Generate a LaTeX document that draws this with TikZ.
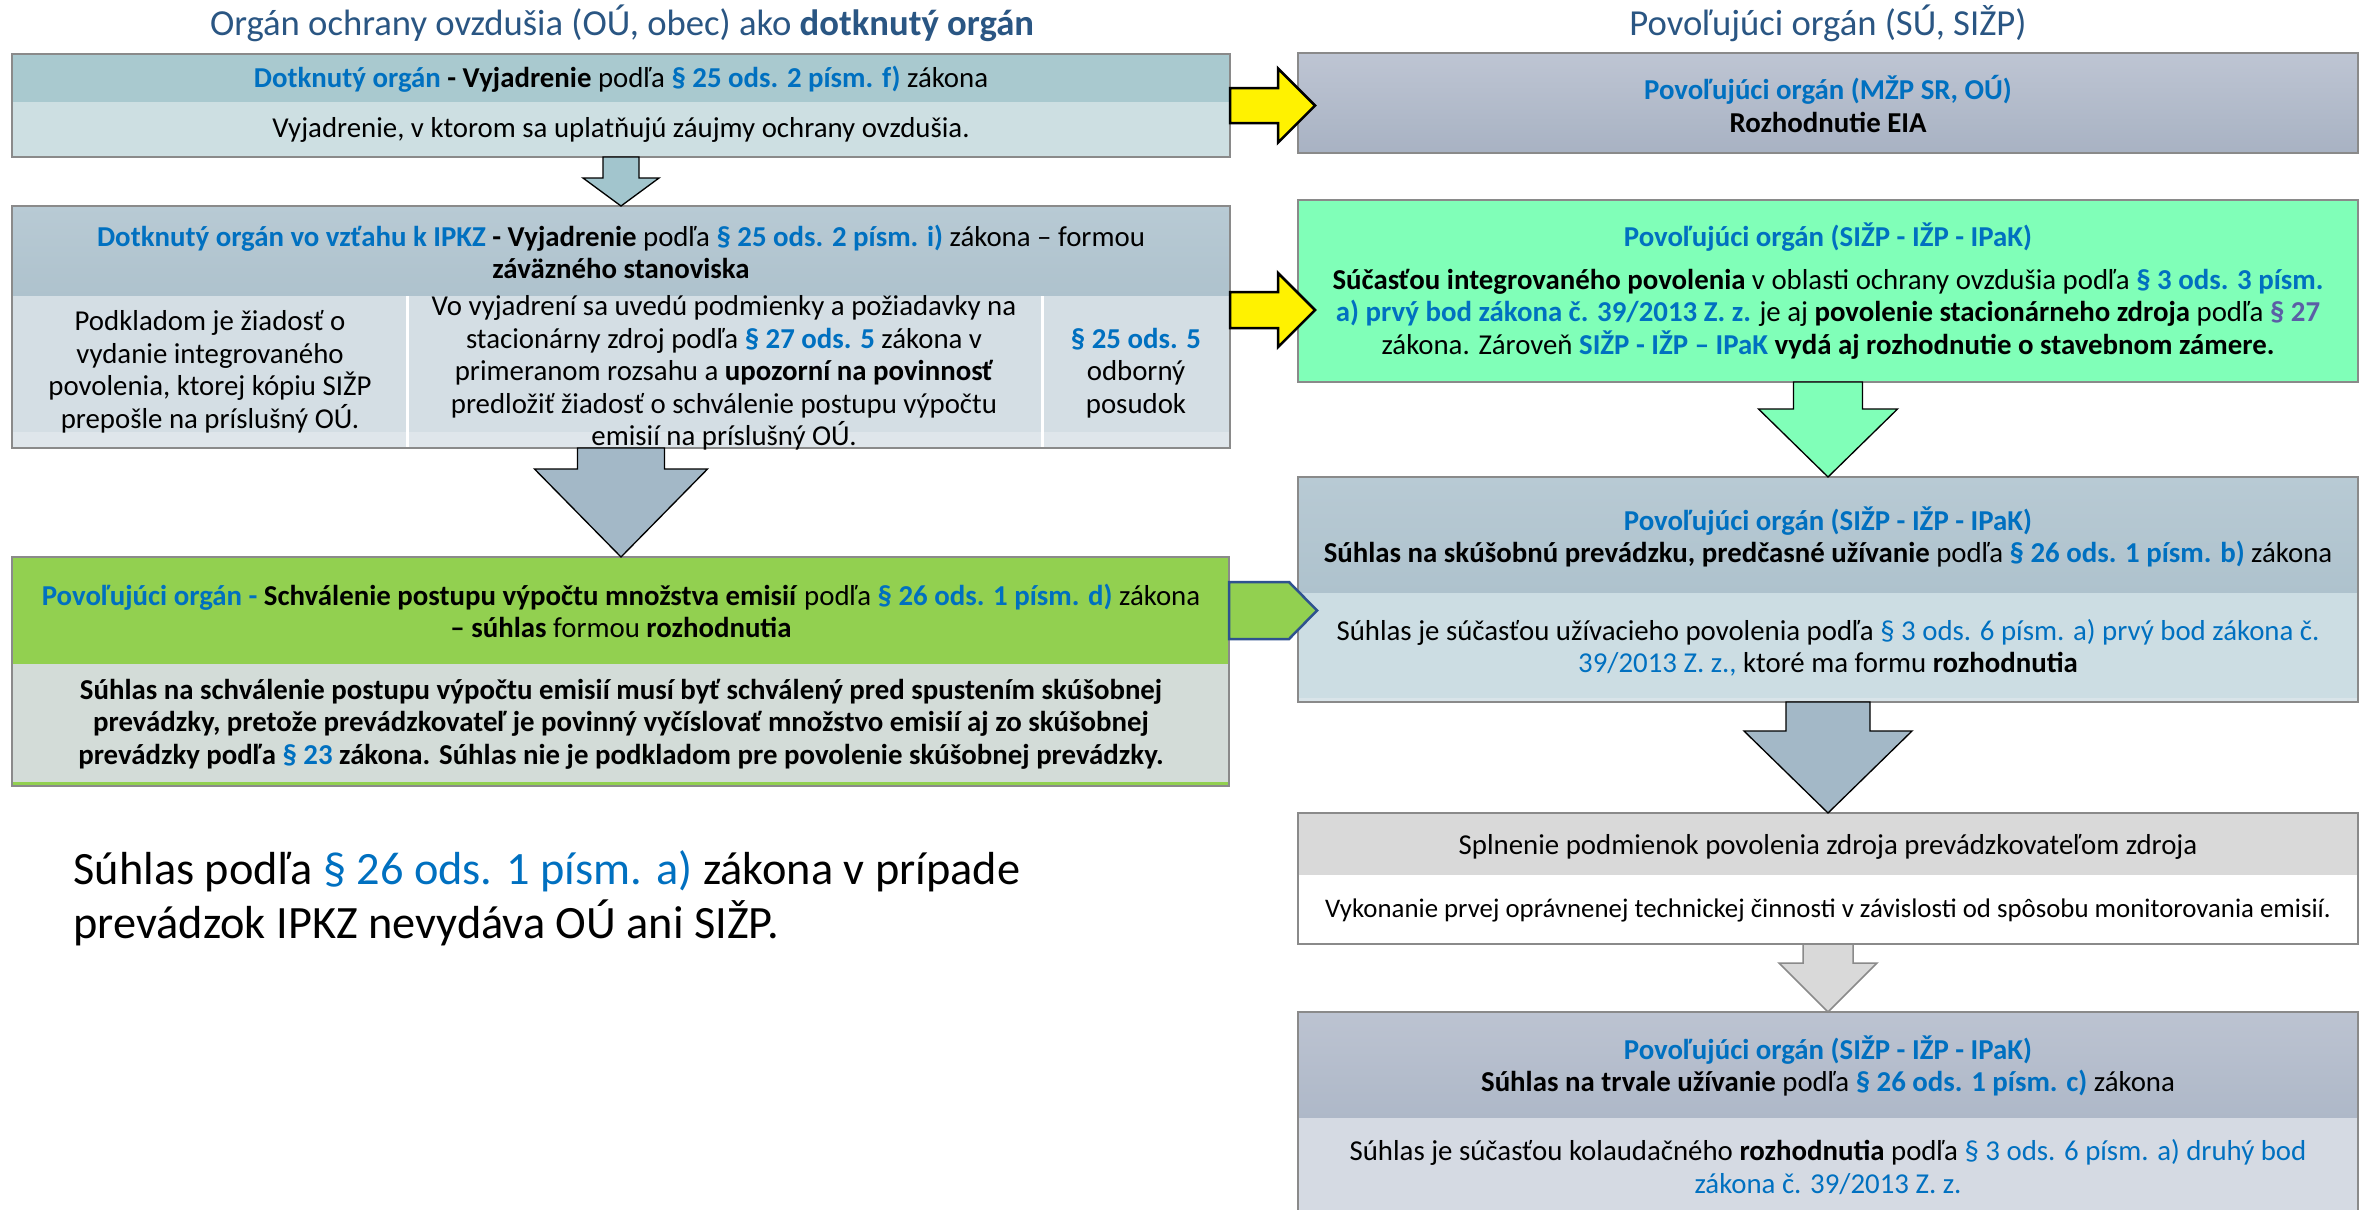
\documentclass[tikz,border=0pt]{standalone}
\usepackage{fontspec}
\setmainfont{Carlito}
\usetikzlibrary{calc,fit}
\definecolor{linkblue}{HTML}{0070C0}
\definecolor{purp}{HTML}{5B5EA6}
\definecolor{titleblue}{HTML}{2A5683}
\definecolor{ahead}{HTML}{A9C9CF}
\definecolor{abody}{HTML}{CDDFE2}
\definecolor{bheadt}{HTML}{B8CAD4}
\definecolor{bheadb}{HTML}{AEC2CD}
\definecolor{bcol}{HTML}{D4DEE4}
\definecolor{bstrip}{HTML}{DFE6EB}
\definecolor{hgreen}{HTML}{92D050}
\definecolor{hbody}{HTML}{D3DCD8}
\definecolor{cheadt}{HTML}{BEC5D3}
\definecolor{cheadb}{HTML}{A8B2C3}
\definecolor{mint}{HTML}{80FFB8}
\definecolor{ebody}{HTML}{CCDDE3}
\definecolor{estrip}{HTML}{D9E4E9}
\definecolor{fhead}{HTML}{D9D9D9}
\definecolor{gheadt}{HTML}{BCC3D1}
\definecolor{gheadb}{HTML}{AEB8C8}
\definecolor{gbody}{HTML}{D5DAE3}
\definecolor{arrteal}{HTML}{A2C5CD}
\definecolor{arrslate}{HTML}{A3B8C7}
\definecolor{boxborder}{HTML}{8A8A8A}
\definecolor{pentborder}{HTML}{2F528F}
\newcommand{\blu}[1]{\textcolor{linkblue}{#1}}
\newcommand{\bblu}[1]{\textbf{\textcolor{linkblue}{#1}}}
\newcommand{\fb}{\fontsize{8.65pt}{9.75pt}\selectfont}
\newcommand{\fsm}{\fontsize{8.05pt}{9.5pt}\selectfont}
\newcommand{\ftitle}{\fontsize{11pt}{13pt}\selectfont}
\newcommand{\fbig}{\fontsize{13.9pt}{16.2pt}\selectfont}
% block arrow pointing down: style, top anchor, tip anchor, half shaft, half head, head length
\newcommand{\arrdown}[6]{%
  \draw[#1] ($(#2)+(-#4,0)$) -- ($(#2)+(#4,0)$) -- ($(#2|-#3)+(#4,-#6)$)
    -- ($(#2|-#3)+(#5,-#6)$) -- (#2|-#3) -- ($(#2|-#3)+(-#5,-#6)$)
    -- ($(#2|-#3)+(-#4,-#6)$) -- cycle;}
% block arrow pointing right: style, start anchor, tip x anchor, half shaft, half head, head length
\newcommand{\arrright}[6]{%
  \draw[#1] ($(#2)+(0,-#4)$) -- ($(#3|-#2)+(-#6,-#4)$) -- ($(#3|-#2)+(-#6,-#5)$)
    -- (#3|-#2) -- ($(#3|-#2)+(-#6,#5)$) -- ($(#3|-#2)+(-#6,#4)$)
    -- ($(#2)+(0,#4)$) -- cycle;}
\begin{document}
\begin{tikzpicture}[x=0.3pt,y=-0.3pt,
  area/.style={inner sep=0pt, outer sep=0pt, draw=none},
  frame/.style={inner sep=0pt, outer sep=0pt, draw=boxborder, line width=0.45pt},
  txt/.style={align=center, inner sep=0pt, font=\fb},
  ttl/.style={anchor=base, inner sep=0pt, font=\ftitle, text=titleblue},
  yarrow/.style={fill=yellow, draw=black, line width=0.75pt, line join=miter},
]
\path[use as bounding box, clip] (0,0) rectangle (2369,1209);
\fill[white] (0,0) rectangle (2369,1209);

% titles
\node[ttl] (tl) at (622,35) {Orgán ochrany ovzdušia (OÚ, obec) ako \textbf{dotknutý orgán}};
\node[ttl] (tr) at (1828,35) {Povoľujúci orgán (SÚ, SIŽP)};

% ---------- box A ----------
\node[area, fill=ahead, fit={(12,54) (1230,102)}] (AH) {};
\node[area, fill=abody, fit={(12,102) (1230,157)}] (AB) {};
\node[frame, fit={(12,54) (1230,157)}] (A) {};
\node[txt] (tA1) at (621,79) {\bblu{Dotknutý orgán} \textbf{- Vyjadrenie} podľa \bblu{§ 25 ods. 2 písm. f)} zákona};
\node[txt] (tA2) at (621,130) {Vyjadrenie, v ktorom sa uplatňujú záujmy ochrany ovzdušia.};

% ---------- box B ----------
\node[area, top color=bheadt, bottom color=bheadb, fit={(12,206) (1230,296)}] (BH) {};
\node[area, fill=bstrip, fit={(12,296) (1230,448)}] (BS) {};
\node[area, fill=bcol, fit={(12,296) (407,432)}] (B1) {};
\node[area, fill=bcol, fit={(407,296) (1042,432)}] (B2) {};
\node[area, fill=bcol, fit={(1042,296) (1230,432)}] (B3) {};
\draw[white, line width=0.9pt] (B1.north east) -- (B1.north east |- BS.south);
\draw[white, line width=0.9pt] (B3.north west) -- (B3.north west |- BS.south);
\node[frame, fit={(12,206) (1230,448)}] (B) {};
\node[txt] (tB0) at (621,252) {\bblu{Dotknutý orgán vo vzťahu k IPKZ} \textbf{- Vyjadrenie} podľa \bblu{§ 25 ods. 2 písm. i)} zákona – formou\\ \textbf{záväzného stanoviska}};
\node[txt] (tB1) at (210,372) {Podkladom je žiadosť o\\ vydanie integrovaného\\ povolenia, ktorej kópiu SIŽP\\ prepošle na príslušný OÚ.};
\node[txt] (tB2) at (724,373) {Vo vyjadrení sa uvedú podmienky a požiadavky na\\ stacionárny zdroj podľa \bblu{§ 27 ods. 5} zákona v\\ primeranom rozsahu a \textbf{upozorní na povinnosť}\\ predložiť žiadosť o schválenie postupu výpočtu\\ emisií na príslušný OÚ.};
\node[txt] (tB3) at (1136,373) {\bblu{§ 25 ods. 5}\\ odborný\\ posudok};

% ---------- box H ----------
\node[area, fill=hgreen, fit={(12,557) (1229,664)}] (HH) {};
\node[area, fill=hgreen, fit={(12,664) (1229,786)}] (HS) {};
\node[area, fill=hbody, fit={(12,664) (1229,782)}] (HB) {};
\node[frame, fit={(12,557) (1229,786)}] (H) {};
\node[txt] (tH1) at (621,611) {\bblu{Povoľujúci orgán -} \textbf{Schválenie postupu výpočtu množstva emisií} podľa \bblu{§ 26 ods. 1 písm. d)} zákona\\ \textbf{– súhlas} formou \textbf{rozhodnutia}};
\node[txt] (tH2) at (621,724) {\textbf{Súhlas na schválenie postupu výpočtu emisií musí byť schválený pred spustením skúšobnej}\\ \textbf{prevádzky, pretože prevádzkovateľ je povinný vyčíslovať množstvo emisií aj zo skúšobnej}\\ \textbf{prevádzky podľa \blu{§ 23} zákona. Súhlas nie je podkladom pre povolenie skúšobnej prevádzky.}};

% ---------- box C ----------
\node[frame, top color=cheadt, bottom color=cheadb, fit={(1298,53) (2358,153)}] (C) {};
\node[txt] (tC) at (1828,104) {\bblu{Povoľujúci orgán (MŽP SR, OÚ)}\\ \textbf{Rozhodnutie EIA}};

% ---------- box D ----------
\node[frame, fill=mint, fit={(1298,200) (2358,382)}] (D) {};
\node[txt] (tD1) at (1828,237) {\bblu{Povoľujúci orgán (SIŽP - IŽP - IPaK)}};
\node[txt] (tD2) at (1828,314) {\textbf{Súčasťou integrovaného povolenia} v oblasti ochrany ovzdušia podľa \bblu{§ 3 ods. 3 písm.}\\ \bblu{a) prvý bod zákona č. 39/2013 Z. z.} je aj \textbf{povolenie stacionárneho zdroja} podľa \textbf{\textcolor{purp}{§ 27}}\\ zákona. Zároveň \bblu{SIŽP - IŽP – IPaK} \textbf{vydá aj rozhodnutie o stavebnom zámere.}};

% ---------- box E ----------
\node[area, top color=bheadt, bottom color=bheadb, fit={(1298,477) (2358,593)}] (EH) {};
\node[area, fill=estrip, fit={(1298,593) (2358,702)}] (ES) {};
\node[area, fill=ebody, fit={(1298,593) (2358,698)}] (EB) {};
\node[frame, fit={(1298,477) (2358,702)}] (E) {};
\node[txt] (tE1) at (1828,537) {\bblu{Povoľujúci orgán (SIŽP - IŽP - IPaK)}\\ \textbf{Súhlas na skúšobnú prevádzku, predčasné užívanie} podľa \bblu{§ 26 ods. 1 písm. b)} zákona};
\node[txt] (tE2) at (1828,648) {Súhlas je súčasťou užívacieho povolenia podľa \blu{§ 3 ods. 6 písm. a) prvý bod zákona č.}\\ \blu{39/2013 Z. z.,} ktoré ma formu \textbf{rozhodnutia}};

% ---------- box F ----------
\node[area, fill=fhead, fit={(1298,813) (2358,875)}] (FH) {};
\node[area, fill=white, fit={(1298,875) (2358,944)}] (FB) {};
\node[frame, fit={(1298,813) (2358,944)}] (F) {};
\node[txt] (tF1) at (1828,847) {Splnenie podmienok povolenia zdroja prevádzkovateľom zdroja};
\node[txt, font=\fsm] (tF2) at (1828,910) {Vykonanie prvej oprávnenej technickej činnosti v závislosti od spôsobu monitorovania emisií.};

% ---------- box G ----------
\node[area, top color=gheadt, bottom color=gheadb, fit={(1298,1012) (2358,1118)}] (GH) {};
\node[area, fill=gbody, fit={(1298,1118) (2358,1215)}] (GB) {};
\node[frame, fit={(1298,1012) (2358,1215)}] (G) {};
\node[txt] (tG1) at (1828,1066) {\bblu{Povoľujúci orgán (SIŽP - IŽP - IPaK)}\\ \textbf{Súhlas na trvale užívanie} podľa \bblu{§ 26 ods. 1 písm. c)} zákona};
\node[txt] (tG2) at (1828,1167) {Súhlas je súčasťou kolaudačného \textbf{rozhodnutia} podľa \blu{§ 3 ods. 6 písm. a) druhý bod}\\ \blu{zákona č. 39/2013 Z. z.}};

% ---------- note ----------
\node[anchor=base west, align=left, inner sep=0pt, font=\fbig] (note) at (73,938) {Súhlas podľa \blu{§ 26 ods. 1 písm. a)} zákona v prípade\\ prevádzok IPKZ nevydáva OÚ ani SIŽP.};

% ---------- block arrows ----------
\arrdown{fill=arrteal}{A.south}{B.north}{18}{38}{28}
\arrdown{fill=arrslate}{B.south}{H.north}{43.5}{86.5}{88}
\arrdown{fill=mint}{D.south}{E.north}{34.5}{69.5}{68}
\arrdown{fill=arrslate}{E.south}{F.north}{42}{84}{82}
\arrdown{fill=fhead, draw=boxborder, line width=0.45pt}{F.south}{G.north}{25}{49}{49}

\coordinate (tipC) at ($(C.west)+(17,0)$);
\coordinate (tipD) at ($(D.west)+(17,0)$);
\coordinate (startB) at ($(BH.south east)+(0,14)$);
\arrright{yarrow}{A.east}{tipC}{17.5}{37}{37}
\arrright{yarrow}{startB}{tipD}{18}{37}{37}

\draw[fill=hgreen, draw=pentborder, line width=0.75pt] ($(HH.east)+(0,-28.5)$) -- ++(60,0) -- ++(28,28.5) -- ++(-28,28.5) -- ++(-60,0) -- cycle;
\end{tikzpicture}
\end{document}
